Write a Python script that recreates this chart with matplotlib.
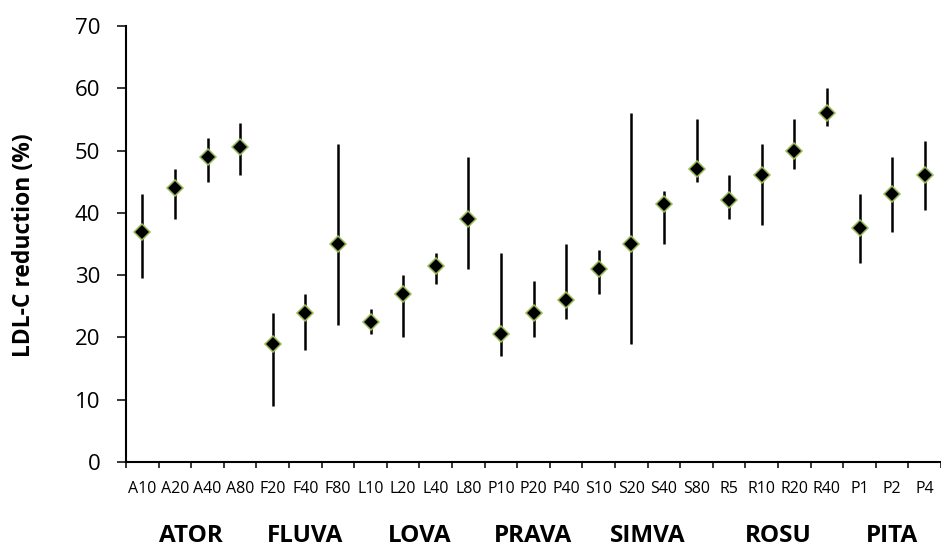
import numpy as np
import matplotlib
matplotlib.use("Agg")
import matplotlib.pyplot as plt
import matplotlib.transforms as mtransforms

# doses per statin, in the order drawn
doses = ['A10', 'A20', 'A40', 'A80', 'F20', 'F40', 'F80', 'L10', 'L20', 'L40', 'L80',
         'P10', 'P20', 'P40', 'S10', 'S20', 'S40', 'S80', 'R5', 'R10', 'R20', 'R40',
         'P1', 'P2', 'P4']
mean_red = [37, 44, 49, 50.5, 19, 24, 35, 22.5, 27, 31.5, 39,
            20.5, 24, 26, 31, 35, 41.5, 47, 42, 46, 50, 56,
            37.5, 43, 46]
upper = [43, 47, 52, 54.5, 24, 27, 51, 24.5, 30, 33.5, 49,
         33.5, 29, 35, 34, 56, 43.5, 55, 46, 51, 55, 60,
         43, 49, 51.5]
lower = [29.5, 39, 45, 46, 9, 18, 22, 20.5, 20, 28.5, 31,
         17, 20, 23, 27, 19, 35, 45, 39, 38, 47, 54,
         32, 37, 40.5]

groups = ['ATOR', 'FLUVA', 'LOVA', 'PRAVA', 'SIMVA', 'ROSU', 'PITA']
group_sizes = [4, 3, 4, 3, 4, 4, 3]

narrow = ['Liberation Sans Narrow', 'Open Sans', 'DejaVu Sans']

W, H = 941, 548
AX_H = 436
fig = plt.figure(figsize=(W / 100, H / 100), dpi=100)
ax = fig.add_axes([126 / W, 86 / H, (W - 126) / W, AX_H / H])

x = np.arange(len(doses))
yerr = [np.array(mean_red) - np.array(lower), np.array(upper) - np.array(mean_red)]
ax.errorbar(x, mean_red, yerr=yerr, fmt='none', ecolor='black', elinewidth=1.8, capsize=0,
            clip_on=False)
ax.plot(x, mean_red, linestyle='none', marker='D', markersize=8.5, markerfacecolor='black',
        markeredgecolor='#9bbb59', markeredgewidth=1.1, clip_on=False, zorder=3)

ax.set_xlim(-0.5, 24.2)
ax.set_ylim(0, 70)
ax.set_yticks(range(0, 71, 10))
ax.set_yticklabels([str(v) for v in range(0, 71, 10)], family=['Open Sans', 'DejaVu Sans'],
                   fontsize=16)
ax.tick_params(axis='y', length=6.5, width=1.1, direction='out', pad=12)

ax.set_xticks(np.arange(-0.5, len(doses), 1))
ax.set_xticklabels([])
ax.tick_params(axis='x', length=4, width=1.1)

for s in ['top', 'right']:
    ax.spines[s].set_visible(False)
for s in ['left', 'bottom']:
    ax.spines[s].set_linewidth(1.5)

fig.text(24 / W, 1 - 245 / H, 'LDL-C reduction (%)', rotation=90, ha='center', va='center',
         fontsize=16.5, fontweight='bold', family=narrow)

trans = mtransforms.blended_transform_factory(ax.transData, ax.transAxes)
# dose labels
for i, d in enumerate(doses):
    ax.text(i, -31 / AX_H, d, transform=trans, ha='center', va='baseline',
            fontsize=11.5, family=narrow, clip_on=False)

# statin group labels under the dose labels
start = 0
for g, n in zip(groups, group_sizes):
    cx = start + (n - 1) / 2
    ax.text(cx, -80 / AX_H, g, transform=trans, ha='center', va='baseline',
            fontsize=17.5, fontweight='bold', family=narrow)
    start += n

fig.savefig('out.png', dpi=100)
